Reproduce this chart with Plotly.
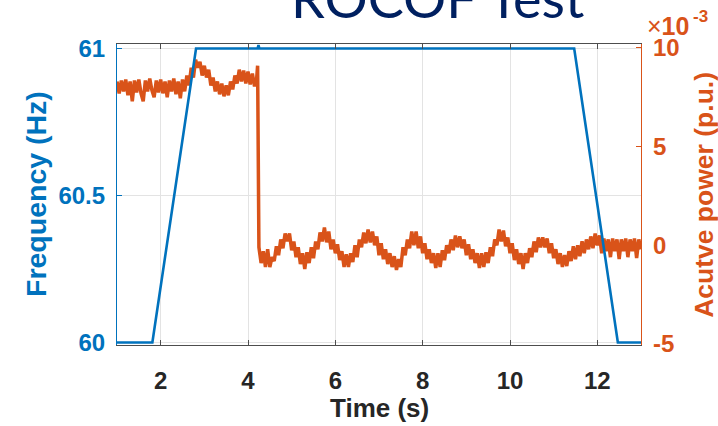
import plotly.graph_objects as go

# ---- Frequency trace (Hz) ----
freq_time = [1.00, 1.81, 2.81, 4.22, 4.24, 4.26, 11.47, 12.47, 13.00]
freq_hz = [60.0, 60.0, 61.0, 61.0, 61.012, 61.0, 61.0, 60.0, 60.0]

# ---- Active power trace (x 1e-3 p.u.) ----
power_time = [
    1.00, 1.05, 1.10, 1.15, 1.20, 1.25, 1.30, 1.35, 1.40, 1.45,
    1.50, 1.55, 1.60, 1.65, 1.70, 1.75, 1.80, 1.85, 1.90, 1.95,
    2.00, 2.05, 2.10, 2.15, 2.20, 2.25, 2.30, 2.35, 2.40, 2.45,
    2.50, 2.55, 2.60, 2.65, 2.70, 2.75, 2.80, 2.85, 2.90, 2.95,
    3.00, 3.05, 3.10, 3.15, 3.20, 3.25, 3.30, 3.35, 3.40, 3.45,
    3.50, 3.55, 3.60, 3.65, 3.70, 3.75, 3.80, 3.85, 3.90, 3.95,
    4.00, 4.05, 4.10, 4.15, 4.20, 4.22,
    4.25, 4.30, 4.35, 4.40, 4.45, 4.50, 4.55, 4.60, 4.65, 4.70,
    4.75, 4.80, 4.85, 4.90, 4.95, 5.00, 5.05, 5.10, 5.15, 5.20,
    5.25, 5.30, 5.35, 5.40, 5.45, 5.50, 5.55, 5.60, 5.65, 5.70,
    5.75, 5.80, 5.85, 5.90, 5.95, 6.00, 6.05, 6.10, 6.15, 6.20,
    6.25, 6.30, 6.35, 6.40, 6.45, 6.50, 6.55, 6.60, 6.65, 6.70,
    6.75, 6.80, 6.85, 6.90, 6.95, 7.00, 7.05, 7.10, 7.15, 7.20,
    7.25, 7.30, 7.35, 7.40, 7.45, 7.50, 7.55, 7.60, 7.65, 7.70,
    7.75, 7.80, 7.85, 7.90, 7.95, 8.00, 8.05, 8.10, 8.15, 8.20,
    8.25, 8.30, 8.35, 8.40, 8.45, 8.50, 8.55, 8.60, 8.65, 8.70,
    8.75, 8.80, 8.85, 8.90, 8.95, 9.00, 9.05, 9.10, 9.15, 9.20,
    9.25, 9.30, 9.35, 9.40, 9.45, 9.50, 9.55, 9.60, 9.65, 9.70,
    9.75, 9.80, 9.85, 9.90, 9.95, 10.00, 10.05, 10.10, 10.15, 10.20,
    10.25, 10.30, 10.35, 10.40, 10.45, 10.50, 10.55, 10.60, 10.65, 10.70,
    10.75, 10.80, 10.85, 10.90, 10.95, 11.00, 11.05, 11.10, 11.15, 11.20,
    11.25, 11.30, 11.35, 11.40, 11.45, 11.50, 11.55, 11.60, 11.65, 11.70,
    11.75, 11.80, 11.85, 11.90, 11.95, 12.00, 12.05, 12.10, 12.15, 12.20,
    12.25, 12.30, 12.35, 12.40, 12.45, 12.50, 12.55, 12.60, 12.65, 12.70,
    12.75, 12.80, 12.85, 12.90, 12.95, 13.00,
]
power_milli_pu = [
    8.3, 7.7, 8.35, 7.8, 8.4, 7.6, 8.3, 7.3, 8.35, 7.75,
    8.4, 7.7, 7.3, 8.35, 7.8, 8.45, 7.85, 7.5, 8.35, 7.75,
    8.4, 7.7, 8.3, 7.5, 8.35, 7.8, 8.45, 7.65, 8.3, 7.45,
    8.4, 7.8, 8.6, 8.1, 9.0, 8.5, 9.4, 9.0, 9.3, 8.6,
    9.1, 8.5, 8.9, 8.1, 8.5, 7.8, 8.3, 7.65, 8.2, 7.55,
    8.1, 7.6, 8.3, 7.9, 8.6, 8.2, 8.9, 8.3, 8.85, 8.2,
    8.8, 8.15, 8.7, 8.05, 8.5, 9.1,
    -0.1, -0.9, -0.3, -1.1, -0.2, -1.1, -0.6, -0.8, -0.05, -0.5,
    0.3, -0.15, 0.6, 0.2, 0.6, -0.25, 0.2, -0.6, -0.1, -0.95,
    -0.4, -1.2, -0.35, -0.9, -0.1, -0.65, 0.2, -0.2, 0.65, 0.2,
    0.9, 0.15, 0.7, -0.2, 0.3, -0.4, 0.05, -0.75, -0.3, -1.1,
    -0.45, -1.1, -0.4, -0.85, 0.0, -0.6, 0.3, -0.1, 0.65, 0.1,
    0.8, 0.15, 0.7, 0.0, 0.45, -0.5, 0.1, -0.7, -0.2, -0.95,
    -0.4, -1.1, -0.55, -1.25, -0.7, -1.1, -0.1, -0.5, 0.3, -0.15,
    0.7, 0.0, 0.7, -0.15, 0.45, -0.4, 0.1, -0.7, -0.2, -0.9,
    -0.4, -1.15, -0.4, -1.1, -0.25, -0.75, 0.0, -0.4, 0.3, -0.25,
    0.5, -0.1, 0.45, -0.15, 0.3, -0.5, 0.05, -0.7, -0.2, -0.9,
    -0.4, -1.15, -0.4, -1.1, -0.35, -0.9, -0.1, -0.55, 0.3, 0.0,
    0.8, 0.2, 0.75, -0.05, 0.4, -0.4, 0.1, -0.75, -0.2, -0.95,
    -0.4, -1.2, -0.4, -0.9, -0.15, -0.6, 0.2, -0.35, 0.4, -0.1,
    0.4, -0.1, 0.35, -0.4, 0.1, -0.65, -0.2, -0.95, -0.4, -1.1,
    -0.5, -1.05, -0.3, -0.8, -0.05, -0.7, 0.0, -0.55, 0.2, -0.4,
    0.3, -0.2, 0.45, -0.15, 0.6, 0.0, 0.5, -0.4, 0.35, -0.3,
    0.3, -0.6, 0.35, -0.3, 0.3, -0.7, 0.3, -0.3, 0.35, -0.6,
    0.3, -0.3, 0.35, -0.65, 0.3, -0.2,
]

# ---- Axis ticks ----
time_ticks = [2, 4, 6, 8, 10, 12]
freq_ticks = [60, 60.5, 61]
freq_tick_labels = ["60", "60.5", "61"]
power_ticks = [-5, 0, 5, 10]
power_tick_labels = ["-5", "0", "5", "10"]

BLUE = "#0072BD"
ORANGE = "#D95319"
DARK = "#262626"
FRAME = "#4d4d4d"
GRID = "#e3e3e3"
NAVY = "#002060"
FONT = "Liberation Sans"

fig = go.Figure()

# Power on the base axis (right side), frequency on the overlay so it is drawn on top
fig.add_trace(go.Scatter(
    x=power_time, y=power_milli_pu, mode="lines", yaxis="y",
    line=dict(color=ORANGE, width=3.5), showlegend=False,
))
fig.add_trace(go.Scatter(
    x=freq_time, y=freq_hz, mode="lines", yaxis="y2",
    line=dict(color=BLUE, width=2.6), showlegend=False,
))

fig.update_layout(
    width=718, height=426, autosize=False,
    margin=dict(l=117, r=77, t=44, b=81),
    paper_bgcolor="white", plot_bgcolor="white",
    xaxis=dict(
        range=[1, 13], tickvals=time_ticks,
        showgrid=True, gridcolor=GRID, gridwidth=1, zeroline=False,
        showline=True, linecolor=FRAME, linewidth=1.2, mirror="ticks",
        ticks="inside", ticklen=5, tickcolor=FRAME, tickwidth=1.2,
        tickfont=dict(family=FONT, size=24, color=DARK, weight="bold"),
        ticklabelstandoff=14,
    ),
    yaxis=dict(
        side="right", range=[-5.05, 10.2],
        tickvals=power_ticks, ticktext=power_tick_labels,
        showgrid=False, zeroline=False,
        showline=True, linecolor=ORANGE, linewidth=1.2,
        ticks="inside", ticklen=5, tickcolor=ORANGE, tickwidth=1.2,
        tickfont=dict(family=FONT, size=24, color=ORANGE, weight="bold"),
        ticklabelstandoff=6,
    ),
    yaxis2=dict(
        overlaying="y", side="left", range=[59.9915, 61.0153],
        tickvals=freq_ticks, ticktext=freq_tick_labels,
        showgrid=True, gridcolor=GRID, gridwidth=1, zeroline=False,
        showline=True, linecolor=BLUE, linewidth=1.2,
        ticks="inside", ticklen=5, tickcolor=BLUE, tickwidth=1.2,
        tickfont=dict(family=FONT, size=24, color=BLUE, weight="bold"),
        ticklabelstandoff=6,
    ),
    annotations=[
        dict(text="ROCOF Test", xref="paper", yref="paper", x=0.6124, y=1.153,
             xanchor="center", yanchor="middle", showarrow=False,
             font=dict(family="Lato", size=54, color=NAVY)),
        dict(text="Frequency (Hz)", xref="paper", yref="paper", x=-0.1555, y=0.5,
             xanchor="center", yanchor="middle", textangle=-90, showarrow=False,
             font=dict(family=FONT, size=28.5, color=BLUE, weight="bold")),
        dict(text="Acutve power (p.u.)", xref="paper", yref="paper", x=1.119, y=0.5,
             xanchor="center", yanchor="middle", textangle=-90, showarrow=False,
             font=dict(family=FONT, size=26.5, color=ORANGE, weight="bold")),
        dict(text="Time (s)", xref="paper", yref="paper", x=0.5, y=-0.209,
             xanchor="center", yanchor="middle", showarrow=False,
             font=dict(family=FONT, size=26, color=DARK, weight="bold")),
        # axis multiplier: "×10" with a raised "-3"
        dict(text="×<b>10</b>", xref="paper", yref="paper",
             x=1.0076, y=1.0598, xanchor="left", yanchor="middle", showarrow=False,
             font=dict(family=FONT, size=25, color=ORANGE)),
        dict(text="<b>-3</b>", xref="paper", yref="paper",
             x=1.0954, y=1.090, xanchor="left", yanchor="middle", showarrow=False,
             font=dict(family=FONT, size=17, color=ORANGE)),
    ],
)

fig.write_html("out.html")
